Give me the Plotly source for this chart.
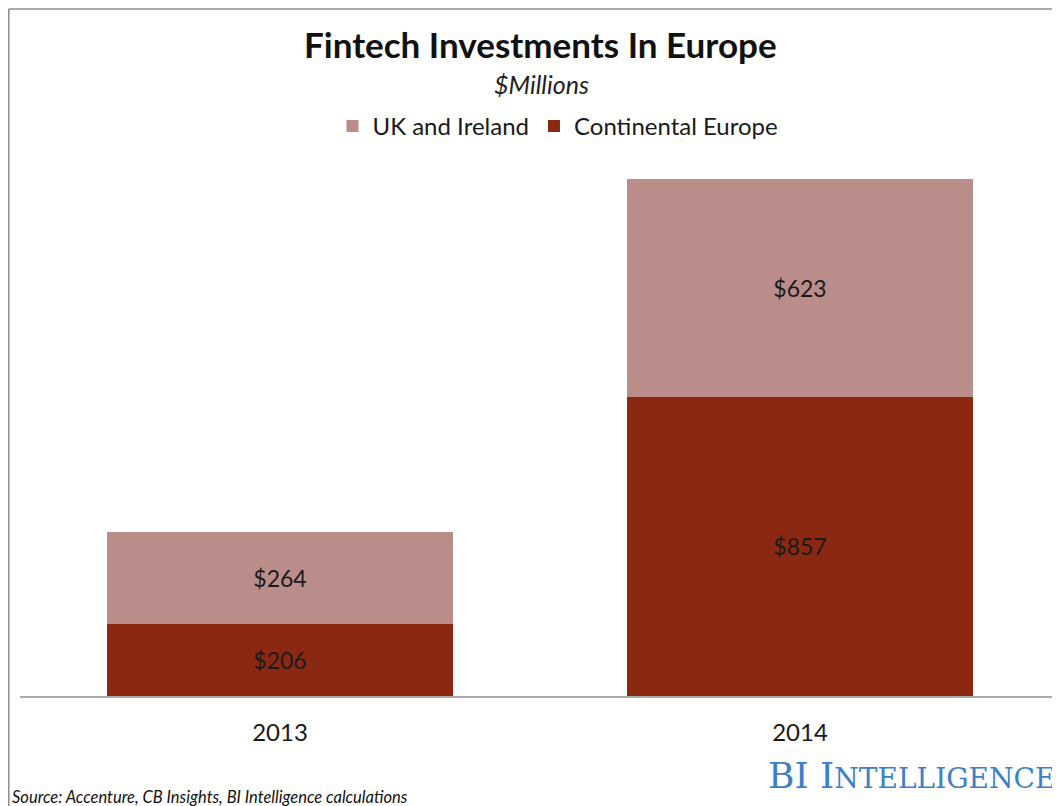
import plotly.graph_objects as go

years = ["2013", "2014"]
continental = [206, 857]
uk_ireland = [264, 623]

series_names = ["Continental Europe", "UK and Ireland"]
colors = {"Continental Europe": "#8b2812", "UK and Ireland": "#ba8c8a"}

font_main = "Lato, Open Sans, sans-serif"

fig = go.Figure()
for name, vals in zip(series_names, [continental, uk_ireland]):
    fig.add_trace(go.Bar(
        x=years, y=vals, name=name,
        marker=dict(color=colors[name], line=dict(width=0)),
        texttemplate="$%{y}", textposition="inside", insidetextanchor="middle",
        textfont=dict(family=font_main, size=23, color="#1a1a1a"),
        constraintext="none",
    ))

# page body has an 8px default margin, so the figure is 8px smaller and offset
W, H = 1052, 798
PLOT_H = 524  # plot area height in px
def py(y_ref):
    return (696 - y_ref) / PLOT_H
def px(x_ref):
    return (x_ref - 20) / 1040

fig.update_layout(
    width=W, height=H,
    margin=dict(l=12, r=0, t=164, b=110),
    barmode="stack", bargap=0.335,
    paper_bgcolor="white", plot_bgcolor="white",
    showlegend=True,
    legend=dict(orientation="h", x=px(558), xanchor="center",
                y=1 - (104 - 8) / H, yref="container", yanchor="top",
                traceorder="reversed",
                font=dict(family=font_main, size=24, color="#1a1a1a"),
                itemsizing="constant"),
    xaxis=dict(showline=True, linecolor="#aaaaaa", linewidth=1.5, ticks="",
               ticklabelstandoff=14,
               tickfont=dict(family=font_main, size=24, color="#1a1a1a"),
               showgrid=False, fixedrange=True),
    yaxis=dict(range=[0, 1500], visible=False, showgrid=False, zeroline=False),
    font=dict(family=font_main),
)

fig.add_annotation(text="<b>Fintech Investments In Europe</b>", xref="paper", yref="paper",
                   x=px(540), y=py(44), xanchor="center", yanchor="middle",
                   showarrow=False, font=dict(family=font_main, size=35, color="#111111"))
fig.add_annotation(text="<i>$Millions</i>", xref="paper", yref="paper",
                   x=px(541), y=py(84), xanchor="center", yanchor="middle",
                   showarrow=False, font=dict(family=font_main, size=25, color="#222222"))
fig.add_annotation(text="<i>Source: Accenture, CB Insights, BI Intelligence calculations</i>",
                   xref="paper", yref="paper", x=px(10), y=py(797),
                   xanchor="left", yanchor="middle", showarrow=False,
                   font=dict(family=font_main, size=16.5, color="#111111"))
fig.add_annotation(text="BI I<span style='font-size:28px'>NTELLIGENCE</span>",
                   xref="paper", yref="paper", x=px(1057), y=py(775),
                   xanchor="right", yanchor="middle", showarrow=False,
                   font=dict(family="DejaVu Serif, Liberation Serif, serif", size=36, color="#3d80c8"))

# frame lines (left and top border)
fig.add_shape(type="line", xref="paper", yref="paper",
              x0=px(8.8), x1=px(8.8), y0=py(806), y1=py(9),
              line=dict(color="#8c8c8c", width=1.5))
fig.add_shape(type="line", xref="paper", yref="paper",
              x0=px(8.8), x1=1.0, y0=py(9), y1=py(9),
              line=dict(color="#8c8c8c", width=1.5))

fig.write_html("out.html")
